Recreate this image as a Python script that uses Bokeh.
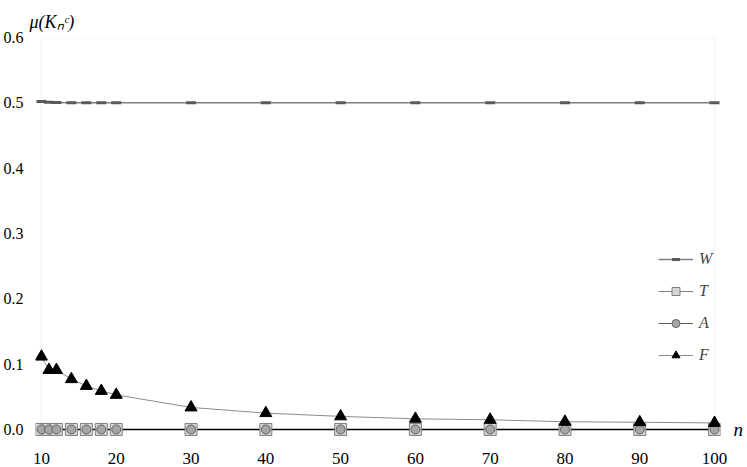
from bokeh.plotting import figure
from bokeh.models import (Range1d, FixedTicker, PrintfTickFormatter, BoxAnnotation, Legend, LegendItem,
                          Title, LinearAxis, CustomJSTickFormatter)
from bokeh.embed import file_html
from bokeh.resources import INLINE

n_vals = [10, 11, 12, 14, 16, 18, 20, 30, 40, 50, 60, 70, 80, 90, 100]
W_vals = [0.502, 0.501, 0.5005, 0.5, 0.5, 0.5, 0.5, 0.5, 0.5, 0.5, 0.5, 0.5, 0.5, 0.5, 0.5]
T_vals = [0.0] * 15
A_vals = [0.0] * 15
F_vals = [0.1115, 0.091, 0.091, 0.077, 0.0666, 0.059, 0.053, 0.0337, 0.025, 0.020, 0.0163, 0.0148, 0.0118, 0.011, 0.010]
x_ticks = [10, 20, 30, 40, 50, 60, 70, 80, 90, 100]
y_ticks = [0.0, 0.1, 0.2, 0.3, 0.4, 0.5, 0.6]
y_title = "μ(Kₙᶜ)"
x_title = "n"

SERIF = "Liberation Serif"

p = figure(width=747, height=467, output_backend="svg", toolbar_location=None,
           x_range=Range1d(9.2, 100.8), y_range=Range1d(-0.0123, 0.6))
p.min_border_left = 34
p.min_border_right = 27
p.min_border_top = 37
p.min_border_bottom = 30
p.outline_line_color = None
p.xgrid.grid_line_color = None
p.ygrid.grid_line_color = None
p.background_fill_color = "white"

frame = BoxAnnotation(left=10, right=100, bottom=0, top=0.6, fill_alpha=0,
                      line_color="#d9d9d9", line_width=1.5, level="underlay")
p.add_layout(frame)

# x title drawn as a right-side axis label at y = 0
raxis = LinearAxis(ticker=FixedTicker(ticks=[0]),
                   formatter=CustomJSTickFormatter(code="return '%s';" % x_title))
p.add_layout(raxis, "right")

for ax in (p.xaxis[0], p.yaxis[0], raxis):
    ax.axis_line_color = None
    ax.major_tick_line_color = None
    ax.minor_tick_line_color = None
    ax.major_tick_out = 0
    ax.major_tick_in = 0
    ax.minor_tick_out = 0
    ax.minor_tick_in = 0
    ax.major_label_text_font = SERIF
    ax.major_label_text_font_size = "16px"
    ax.major_label_text_color = "black"
p.xaxis[0].ticker = FixedTicker(ticks=x_ticks)
p.xaxis[0].major_label_text_font_size = "17px"
p.yaxis[0].ticker = FixedTicker(ticks=y_ticks)
p.yaxis[0].formatter = PrintfTickFormatter(format="%.1f")
p.xaxis[0].major_label_standoff = 15
p.yaxis[0].major_label_standoff = 12
raxis.major_label_standoff = 13
raxis.major_label_text_font_style = "italic"
raxis.major_label_text_font_size = "19px"

# W
w_line = p.line(n_vals, W_vals, line_color="#7f7f7f", line_width=1.5)
w_mark = p.scatter(n_vals, W_vals, marker="dash", size=10, line_color="#595959", line_width=3)
# F
f_line = p.line(n_vals, F_vals, line_color="#8c8c8c", line_width=1)
# T / A
ta_line = p.line(n_vals, T_vals, line_color="black", line_width=1.5)
t_line = p.line(n_vals, T_vals, line_color="#7f7f7f", line_width=1)
t_mark = p.scatter(n_vals, T_vals, marker="square", size=12, fill_color="#d6d6d6", line_color="#808080", line_width=1)
a_line = p.line(n_vals, A_vals, line_color="#606060", line_width=1)
a_mark = p.scatter(n_vals, A_vals, marker="circle", size=9, fill_color="#a6a6a6", line_color="#606060", line_width=1)
f_mark = p.scatter(n_vals, F_vals, marker="triangle", size=12, fill_color="black", line_color="black")
t_line.visible = False
a_line.visible = False

legend = Legend(items=[
    LegendItem(label="W", renderers=[w_line, w_mark]),
    LegendItem(label="T", renderers=[t_line, t_mark]),
    LegendItem(label="A", renderers=[a_line, a_mark]),
    LegendItem(label="F", renderers=[f_line, f_mark]),
], location=(623, 72))
legend.border_line_color = None
legend.background_fill_alpha = 0
legend.padding = 0
legend.margin = 0
legend.glyph_width = 35
legend.glyph_height = 20
legend.spacing = 12
legend.label_standoff = 6
legend.label_text_font = SERIF
legend.label_text_font_style = "italic"
legend.label_text_font_size = "16px"
p.add_layout(legend)

# y axis title at top-left
p.add_layout(Title(text=y_title, align="left", offset=-6, standoff=12, text_font=SERIF,
                   text_font_style="italic", text_font_size="18px", text_color="black"), "above")

open("out.html", "w").write(file_html(p, INLINE))
